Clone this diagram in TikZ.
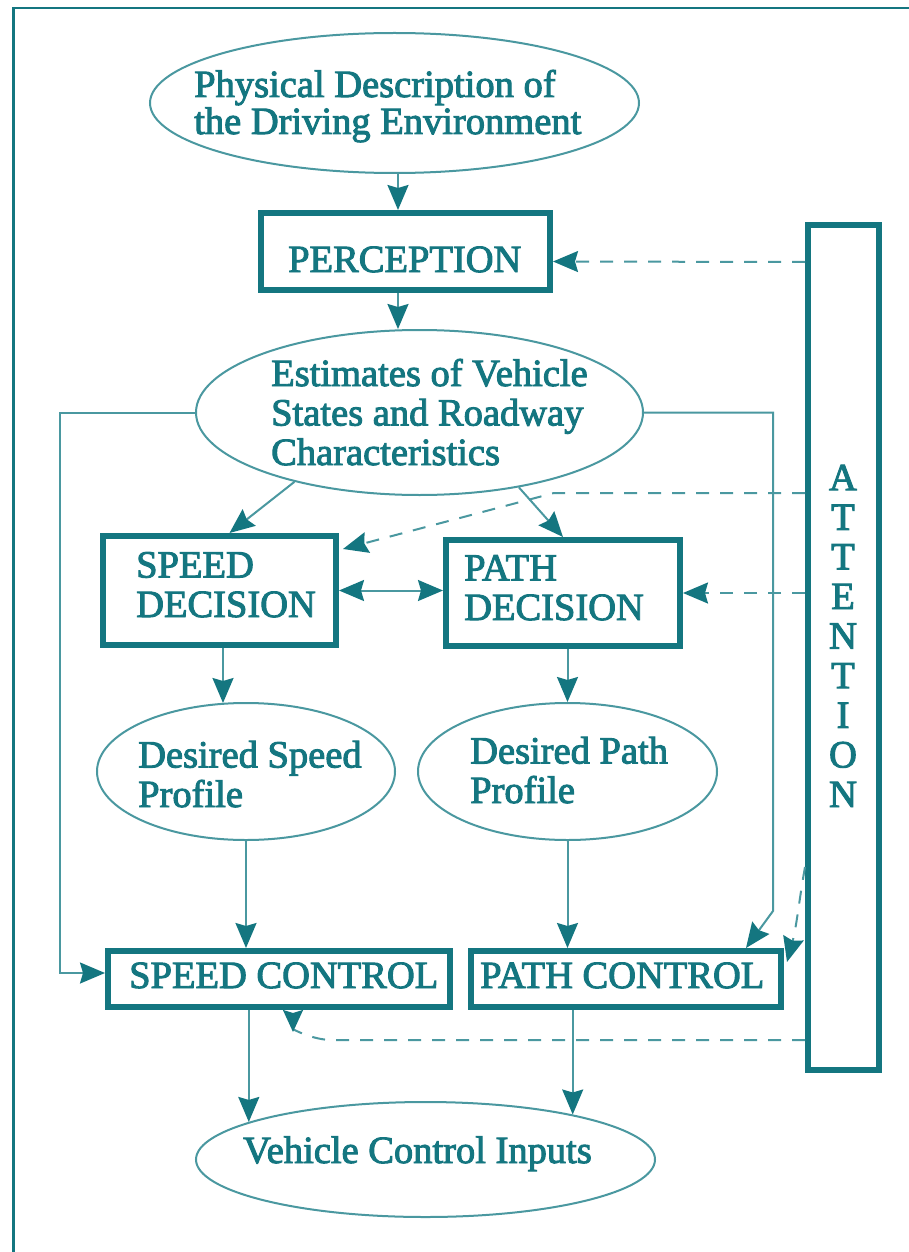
\documentclass[tikz,border=0pt]{standalone}
\usepackage{fontspec}
\setmainfont{Liberation Serif}[FakeBold=2.5]
\usetikzlibrary{arrows.meta,shapes.geometric,calc}
\definecolor{tealdk}{RGB}{20,118,128}
\definecolor{teallt}{RGB}{74,152,160}
\newcommand\lblfont{\fontsize{38.5}{39.5}\selectfont}

\begin{document}
\begin{tikzpicture}[x=1pt,y=-1pt,
  >={Stealth[length=25pt,width=21pt,inset=3pt,color=tealdk]},
  box/.style={draw=tealdk, line width=6pt, inner sep=0pt},
  oval/.style={ellipse, draw=teallt, line width=2pt, inner sep=0pt},
  lbl/.style={text=tealdk, inner sep=0pt, anchor=base west, align=left, font=\lblfont},
  conn/.style={draw=teallt, line width=2pt, ->},
  dsh/.style={conn, dash pattern=on 13pt off 11pt},
]
\fill[white] (0,0) rectangle (909,1252);
\useasboundingbox (0,0) rectangle (909,1252);

% frame (top and left edges)
\draw[tealdk, line width=2.5pt] (13.5,1252) -- (13.5,8) -- (909,8);

% nodes (text anchored at the baseline of its last line)
\node[oval, minimum width=489, minimum height=140] (env) at (394.5,103) {};
\node[lbl, font=\fontsize{38.5}{37}\selectfont] (envtxt) at (194,134) {Physical Description of\\the Driving Environment};

\node[box, minimum width=289, minimum height=77] (perc) at (405.5,251.5) {};
\node[lbl] (perctxt) at (288,272) {PERCEPTION};

\node[oval, minimum width=447, minimum height=165] (est) at (419.5,412.5) {};
\node[lbl] (esttxt) at (271,465) {Estimates of Vehicle\\States and Roadway\\Characteristics};

\node[box, minimum width=233, minimum height=109] (sd) at (219.5,590.5) {};
\node[lbl] (sdtxt) at (136,617) {SPEED\\DECISION};
\node[box, minimum width=234, minimum height=106] (pd) at (563,593) {};
\node[lbl] (pdtxt) at (464,620) {PATH\\DECISION};

\node[oval, minimum width=298, minimum height=137] (dsp) at (246,771.5) {};
\node[lbl] (dsptxt) at (138,807) {Desired Speed\\Profile};
\node[oval, minimum width=299, minimum height=137] (dpp) at (567.5,771.5) {};
\node[lbl] (dpptxt) at (470,803) {Desired Path\\Profile};

\node[box, minimum width=342, minimum height=56] (sc) at (279,979) {};
\node[lbl] (sctxt) at (129,988) {SPEED CONTROL};
\node[box, minimum width=310, minimum height=56] (pc) at (626,979) {};
\node[lbl] (pctxt) at (480,988) {PATH CONTROL};

\node[oval, minimum width=459, minimum height=115] (vci) at (425.5,1159.5) {};
\node[lbl] (vcitxt) at (243,1163) {Vehicle Control Inputs};

\node[box, minimum width=71, minimum height=845] (att) at (843.5,647.5) {};
\node[lbl, anchor=base, align=center, font=\fontsize{38.5}{39.6}\selectfont] (atttxt) at (843,807) {A\\T\\T\\E\\N\\T\\I\\O\\N};

% solid connectors
\coordinate (xa) at (398,0);
\draw[conn] (env.south -| xa) -- (perc.north -| xa);
\draw[conn] (perc.south -| xa) -- (est.north -| xa);
\draw[conn] (est.209.6) -- ($(sd.north)+(10,0)$);
\draw[conn] (est.323.9) -- (pd.north);
\draw[conn, <->] (sd.east) -- (sd.east -| pd.west);
\coordinate (xb) at (223,0);
\draw[conn] (sd.south -| xb) -- ($(dsp.north -| xb)+(0,1)$);
\draw[conn] (pd.south -| dpp.north) -- (dpp.north);
\draw[conn] (dsp.south) -- (dsp.south |- sc.north);
\draw[conn] (dpp.south) -- (dpp.south |- pc.north);
\draw[conn] (sc.south -| vci.168.2) -- (vci.168.2);
\draw[conn] (pc.south -| vci.17.75) -- (vci.17.75);
\draw[conn] (est.west) -- ++(-135,0) |- ($(sc.west)+(0,-6)$);
\draw[conn] (est.east) -| ($(pc.north east)+(-11,-37)$) -- ($(pc.north east)+(-38,0)$);

% attention links (dashed)
\draw[dsh] (att.west |- 0,262) -- ($(perc.east)+(0,10)$);
\draw[dsh] (att.west |- 0,493) -- (554,493) -- ($(sd.north east)+(4,16)$);
\draw[dsh] (att.west |- pd.east) -- (pd.east);
\draw[dsh] (att.west |- 0,867) to[out=-100,in=75] ($(pc.north east)+(3,14)$);
\draw[dsh, -{Stealth[reversed,length=22pt,width=20pt,inset=3pt,color=tealdk]}]
  (att.west |- 0,1040) -- (332,1040) to[out=180,in=-90] ($(sc.south)+(14,0)$);
\end{tikzpicture}
\end{document}
